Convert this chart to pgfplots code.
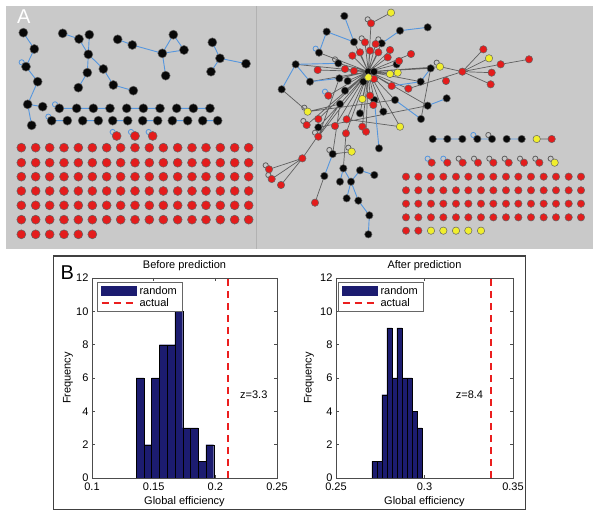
\documentclass[border=0pt]{standalone}
\usepackage{pgfplots}
\pgfplotsset{compat=1.18}
\usepackage{fontspec}
\setmainfont{Liberation Sans}
\definecolor{panelgray}{RGB}{201,201,201}
\definecolor{nred}{RGB}{228,28,28}
\definecolor{nyel}{RGB}{240,238,45}
\definecolor{nblk}{RGB}{8,8,8}
\definecolor{eblue}{RGB}{85,150,222}
\definecolor{egray}{RGB}{95,95,95}
\definecolor{outl}{RGB}{100,100,100}
\definecolor{barblue}{RGB}{28,28,112}
\definecolor{dashred}{RGB}{235,30,30}
\pgfplotsset{
 netL/.style={at={(0pt,0pt)}, anchor=south west, width=600pt, height=519pt, scale only axis,
   xmin=0, xmax=1800, ymin=0, ymax=1557, y dir=reverse, hide axis, clip=false, unbounded coords=jump},
 netR/.style={netL, xmin=-765, xmax=1035},
 nd/.style 2 args={only marks, mark=*, mark size=#2, draw=outl, fill=#1, mark options={line width=0.5pt}},
 lp/.style={only marks, mark=o, mark size=2.6pt, color=#1, mark options={line width=0.8pt}},
 eb/.style={no markers, eblue, line width=0.9pt},
 eg/.style={no markers, egray, line width=0.7pt},
 hist/.style={anchor=south west, height=200pt, scale only axis, ymin=0, ymax=12,
   ytick={0,2,4,6,8,10,12}, tick align=inside, major tick length=3pt,
   axis line style={black!70, line width=0.5pt}, tick style={black!70, line width=0.5pt},
   font=\fontsize{11}{13}\selectfont, ticklabel style={font=\fontsize{11}{13}\selectfont},
   /pgf/number format/assume math mode=true,
   xticklabel style={inner ysep=0pt, yshift=-4.5pt},
   yticklabel style={inner ysep=0pt},
   xlabel={Global efficiency}, ylabel={Frequency},
   xlabel style={at={(axis description cs:0.5,0)}, anchor=base, yshift=-26.3pt},
   every axis title shift=0pt,
   title style={at={(axis description cs:0.5,1)}, anchor=base, yshift=9.7pt},
   legend style={anchor=north west, draw=black!60, fill=white, font=\fontsize{11}{13}\selectfont,
     inner xsep=3pt, inner ysep=1.5pt, row sep=-1pt},
   legend cell align=left},
}
\begin{document}
\begin{tikzpicture}
\useasboundingbox (0,0) rectangle (600pt,519pt);
\fill[white] (0,0) rectangle (600pt,519pt);
\fill[panelgray] (6pt,270pt) rectangle (592.7pt,513pt);
\draw[black!30, line width=0.8pt] (256.7pt,270pt) -- (256.7pt,513pt);
\draw[black!75, line width=1.3pt] (53.3pt,9.7pt) rectangle (525.7pt,263pt);

% ---------- Panel A, left half ----------
\begin{axis}[netL]
\addplot[eb] coordinates {
(70,98) (103,147) (78,200) (113,245) (83,313) (128,320) (nan,nan)
(83,313) (95,376) (nan,nan)
(188,100) (237,117) (265,163) (262,218) (235,263) (nan,nan)
(268,104) (265,163) (310,207) (340,255) (400,272) (nan,nan)
(353,118) (397,135) (487,160) (520,104) (552,150) (487,160) (497,227) (nan,nan)
(637,127) (660,175) (633,215) (nan,nan)
(660,175) (738,191) (nan,nan)
(178,325) (330,325) (nan,nan)
(380,325) (480,325) (nan,nan)
(530,325) (630,325) (nan,nan)
(155,362) (202,362) (nan,nan)
(248,362) (295,362) (nan,nan)
(338,362) (383,362) (nan,nan)
(428,362) (473,362) (nan,nan)
(517,362) (563,362) (nan,nan)
(608,362) (653,362)
};
\addplot[lp=eblue] coordinates {(65,187) (165,313) (145,350) (338,396) (393,396) (446,396)};
\addplot[nd={nblk}{4.5pt}] coordinates {
(70,98) (103,147) (78,200) (113,245) (83,313) (128,320) (95,376)
(188,100) (237,117) (268,104) (265,163) (262,218) (235,263) (310,207) (340,255) (400,272)
(353,118) (397,135) (487,160) (520,104) (552,150) (497,227)
(637,127) (660,175) (633,215) (738,191)
(178,325) (230,325) (280,325) (330,325) (380,325) (430,325) (480,325) (530,325) (580,325) (630,325)
(155,362) (202,362) (248,362) (295,362) (338,362) (383,362) (428,362) (473,362) (517,362) (563,362) (608,362) (653,362)
};
\addplot[nd={nred}{4.5pt}] coordinates {
(350,408) (405,408) (458,408)
(64,443) (107,443) (149,443) (192,443) (235,443) (277,443) (320,443) (362,443) (405,443) (448,443) (490,443) (533,443) (576,443) (618,443) (661,443) (704,443) (746,443)
(64,488) (107,488) (149,488) (192,488) (235,488) (277,488) (320,488) (362,488) (405,488) (448,488) (490,488) (533,488) (576,488) (618,488) (661,488) (704,488) (746,488)
(64,530) (107,530) (149,530) (192,530) (235,530) (277,530) (320,530) (362,530) (405,530) (448,530) (490,530) (533,530) (576,530) (618,530) (661,530) (704,530) (746,530)
(64,573) (107,573) (149,573) (192,573) (235,573) (277,573) (320,573) (362,573) (405,573) (448,573) (490,573) (533,573) (576,573) (618,573) (661,573) (704,573) (746,573)
(64,616) (107,616) (149,616) (192,616) (235,616) (277,616) (320,616) (362,616) (405,616) (448,616) (490,616) (533,616) (576,616) (618,616) (661,616) (704,616) (746,616)
(64,659) (107,659) (149,659) (192,659) (235,659) (277,659) (320,659) (362,659) (405,659) (448,659) (490,659) (533,659) (576,659) (618,659) (661,659) (704,659) (746,659)
(64,703) (107,703) (149,703) (192,703) (235,703) (277,703)
};
\end{axis}

% ---------- Panel A, right half ----------
\begin{axis}[netR]
\addplot[eg] coordinates {
(340,215) (297,126) (340,215) (330,127) (340,215) (362,132) (340,215) (315,157)
(340,215) (345,152) (340,215) (370,157) (340,215) (292,167) (340,215) (405,150)
(340,215) (398,172) (340,215) (380,130) (340,215) (250,190) (340,215) (253,235)
(340,215) (278,243) (340,215) (270,272) (340,215) (255,312) (340,215) (220,287)
(340,215) (275,358) (340,215) (315,340) (340,215) (345,287) (340,215) (358,300)
(340,215) (420,300) (340,215) (410,258) (340,215) (460,266) (340,215) (425,193)
(340,215) (468,162) (340,215) (527,205) (340,215) (497,245) (340,215) (188,210)
(340,215) (270,207) (340,215) (297,213) (340,215) (240,378) (340,215) (190,357)
(340,215) (155,375) (340,215) (322,380) (340,215) (165,245) (340,215) (122,193)
(340,215) (435,380) (340,215) (555,200) (340,215) (518,317) (340,215) (348,70)
(340,215) (322,297) (340,215) (405,222) (340,215) (428,218) (340,215) (385,335)
(340,215) (190,410) (340,215) (273,400) (340,215) (333,395) (340,215) (192,158)
(nan,nan)
(348,70) (408,38) (nan,nan)
(80,268) (158,335) (255,312) (nan,nan)
(255,312) (190,382) (nan,nan)
(255,312) (142,475) (nan,nan)
(255,312) (233,462) (290,455) (nan,nan)
(142,475) (42,508) (nan,nan)
(142,475) (50,537) (nan,nan)
(142,475) (78,555) (nan,nan)
(208,528) (180,608) (nan,nan)
(265,505) (273,400) (nan,nan)
(555,200) (622,215) (685,148) (nan,nan)
(622,215) (702,175) (nan,nan)
(622,215) (737,193) (822,178) (nan,nan)
(622,215) (710,218) (nan,nan)
(622,215) (707,253) (nan,nan)
(460,266) (622,215) (nan,nan)
(275,358) (435,380) (nan,nan)
(190,382) (518,317) (nan,nan)
(527,205) (498,357) (nan,nan)
(253,235) (190,410) (nan,nan)
(158,335) (420,300) (nan,nan)
(845,417) (890,417)
};
\addplot[eb] coordinates {
(268,48) (297,126) (nan,nan)
(215,95) (297,126) (nan,nan)
(215,95) (192,158) (nan,nan)
(380,130) (435,92) (518,82) (nan,nan)
(80,268) (122,193) (250,190) (nan,nan)
(122,193) (165,245) (253,235) (nan,nan)
(527,205) (497,245) (nan,nan)
(410,258) (497,245) (nan,nan)
(420,300) (498,357) (nan,nan)
(518,317) (575,295) (nan,nan)
(358,300) (372,445) (nan,nan)
(233,462) (208,528) (nan,nan)
(265,505) (255,545) (nan,nan)
(265,505) (288,545) (275,595) (nan,nan)
(288,545) (315,511) (358,525) (nan,nan)
(288,545) (310,602) (343,646) (340,703) (nan,nan)
(533,417) (622,417) (nan,nan)
(667,417) (711,417) (nan,nan)
(755,417) (800,417)
};
\addplot[lp=egray] coordinates {
(338,58) (320,115) (370,118) (240,178) (148,323) (145,363) (180,398) (223,450) (280,443)
(32,496) (40,525) (545,188) (700,405)
(611,476) (657,476) (703,476) (749,476) (795,476) (841,476) (887,476)
};
\addplot[lp=eblue] coordinates {(210,275) (182,146) (655,405) (518,476) (565,476)};
\addplot[nd={nblk}{3.7pt}] coordinates {
(268,48) (215,95) (297,126) (380,130) (435,92) (518,82) (192,158) (122,193) (250,190)
(165,245) (80,268) (253,235) (278,243) (270,272) (325,245) (340,215) (357,215) (358,300)
(420,300) (385,335) (255,312) (315,340) (190,382) (497,245) (527,205) (575,295) (518,317)
(498,357) (233,462) (372,445) (265,505) (208,528) (255,545) (288,545) (315,511) (358,525)
(275,595) (310,602) (343,646) (340,703) (425,193)
(533,417) (577,417) (622,417) (667,417) (711,417) (755,417) (800,417)
};
\addplot[nd={nred}{3.7pt}] coordinates {
(348,70) (330,127) (362,132) (315,157) (345,152) (370,157) (292,167) (405,150) (398,172)
(468,162) (432,183) (188,210) (270,207) (297,213) (357,237) (410,258) (460,266) (573,243)
(622,215) (685,148) (737,193) (710,218) (707,253) (822,178) (220,287) (345,287) (355,315)
(190,357) (155,375) (240,378) (275,358) (190,410) (273,400) (322,380) (333,395) (142,475)
(42,508) (50,537) (78,555) (180,608)
(890,417)
(530,488) (577,488) (623,488) (669,488) (715,488) (761,488) (807,488) (853,488)
(453,530) (490,530) (528,530) (565,530) (603,530) (640,530) (678,530) (715,530) (753,530) (790,530) (828,530) (866,530) (903,530) (941,530) (978,530)
(453,571) (490,571) (528,571) (565,571) (603,571) (640,571) (678,571) (715,571) (753,571) (790,571) (828,571) (866,571) (903,571) (941,571) (978,571)
(453,611) (490,611) (528,611) (565,611) (603,611) (640,611) (678,611) (715,611) (753,611) (790,611) (828,611) (866,611) (903,611) (941,611) (978,611)
(453,652) (490,652) (528,652) (565,652) (603,652) (640,652) (678,652) (715,652) (753,652) (790,652) (828,652) (866,652) (903,652) (941,652) (978,652)
(453,692) (490,692)
};
\addplot[nd={nyel}{3.7pt}] coordinates {
(408,38) (555,200) (405,222) (428,218) (340,232) (322,297) (158,335) (435,380) (290,455) (702,175)
(845,417) (899,488)
(528,692) (565,692) (603,692) (640,692) (678,692)
};
\end{axis}

% ---------- Panel B ----------
\begin{axis}[hist, at={(92pt,41pt)}, width=185pt, xmin=0.1, xmax=0.25,
  xtick={0.1,0.15,0.2,0.25}, xticklabels={0.1,0.15,0.2,0.25},
  title={Before prediction},
  ylabel style={at={(axis description cs:-0.116,0.5)}, anchor=base},
  legend style={at={(rel axis cs:0.029,0.978)}}]
\addplot[ybar interval, fill=barblue, draw=black, line width=0.3pt,
  legend image code/.code={\fill[barblue] (0pt,-4.5pt) rectangle (35pt,4.5pt);}]
  coordinates {(0.1357,6) (0.1420,2) (0.1483,6) (0.1546,8) (0.1609,8) (0.1672,10)
               (0.1735,3) (0.1798,3) (0.1861,1) (0.1924,2) (0.1987,0)};
\addlegendentry{random}
\addplot[dashred, line width=2pt, dash pattern=on 7pt off 5pt,
  legend image code/.code={\draw[dashred, line width=2pt, dash pattern=on 7pt off 5pt] (0pt,0pt) -- (35pt,0pt);}]
  coordinates {(0.2103,0) (0.2103,12)};
\addlegendentry{actual}
\node[anchor=base west, font=\fontsize{11}{13}\selectfont] at (axis cs:0.2173,4.78) {z=3.3};
\end{axis}

\begin{axis}[hist, at={(336pt,41pt)}, width=177pt, xmin=0.25, xmax=0.35,
  xtick={0.25,0.3,0.35}, xticklabels={0.25,0.3,0.35},
  title={After prediction},
  ylabel style={at={(axis description cs:-0.138,0.5)}, anchor=base},
  legend style={at={(rel axis cs:0.013,0.978)}}]
\addplot[ybar interval, fill=barblue, draw=black, line width=0.3pt,
  legend image code/.code={\fill[barblue] (0pt,-4.5pt) rectangle (35pt,4.5pt);}]
  coordinates {(0.2703,1) (0.2731,1) (0.2759,5) (0.2787,9) (0.2816,6) (0.2844,9)
               (0.2872,6) (0.2900,6) (0.2928,4) (0.2957,3) (0.2985,0)};
\addlegendentry{random}
\addplot[dashred, line width=2pt, dash pattern=on 7pt off 5pt,
  legend image code/.code={\draw[dashred, line width=2pt, dash pattern=on 7pt off 5pt] (0pt,0pt) -- (35pt,0pt);}]
  coordinates {(0.3374,0) (0.3374,12)};
\addlegendentry{actual}
\node[anchor=base east, font=\fontsize{11}{13}\selectfont] at (axis cs:0.3351,4.78) {z=8.4};
\end{axis}

\node[anchor=base west, white, font=\fontsize{20}{24}\selectfont, inner sep=0pt] at (17pt,495pt) {A};
\node[anchor=base west, black, font=\fontsize{20}{24}\selectfont, inner sep=0pt] at (60.5pt,239pt) {B};
\end{tikzpicture}
\end{document}
